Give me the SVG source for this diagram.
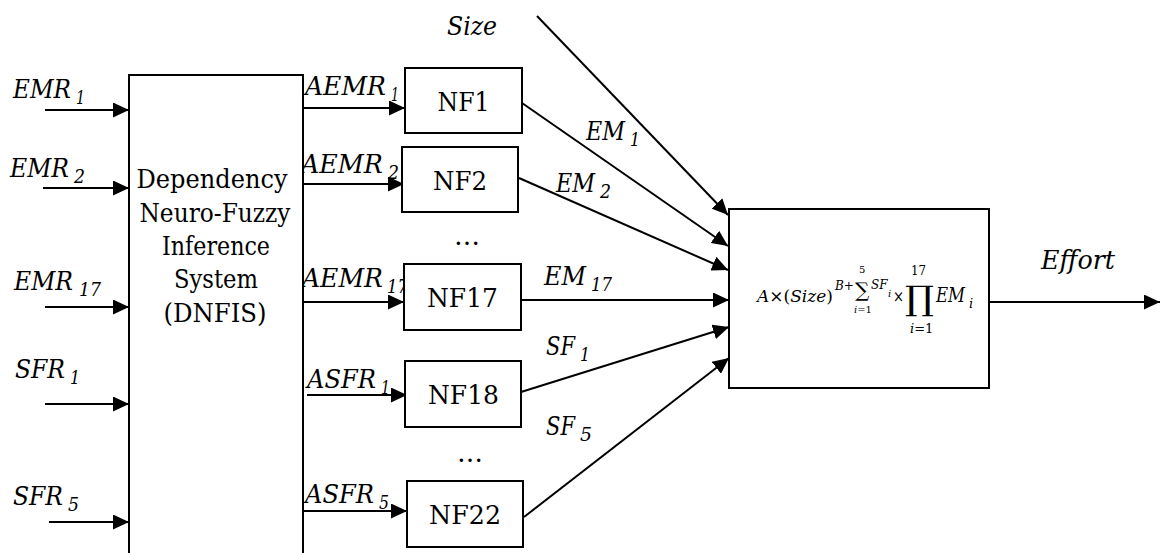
<svg xmlns="http://www.w3.org/2000/svg" width="1160" height="553" viewBox="0 0 1160 553">
<style>
.box{fill:#fff;stroke:#000;stroke-width:2}
.ln{stroke:#000;stroke-width:2;fill:none}
text{font-family:"DejaVu Serif",serif;fill:#000}
.t{font-size:26px}
.i{font-style:italic}
.sub{font-size:18px;font-style:italic}
.f{font-style:italic}
.n{font-style:normal}
</style>
<defs>
<marker id="ah" markerUnits="userSpaceOnUse" markerWidth="17" markerHeight="15" refX="16" refY="7.5" orient="auto">
<path d="M0,0 L16,7.5 L0,15 z" fill="#000"/>
</marker>
</defs>
<rect width="1160" height="553" fill="#fff"/>

<g id="connectors">
<line class="ln" x1="45" y1="110" x2="129" y2="110" marker-end="url(#ah)"/>
<line class="ln" x1="43" y1="188" x2="129" y2="188" marker-end="url(#ah)"/>
<line class="ln" x1="45" y1="307" x2="129" y2="307" marker-end="url(#ah)"/>
<line class="ln" x1="45" y1="404" x2="129" y2="404" marker-end="url(#ah)"/>
<line class="ln" x1="49" y1="522" x2="129" y2="522" marker-end="url(#ah)"/>

<line class="ln" x1="303" y1="108" x2="405" y2="108" marker-end="url(#ah)"/>
<line class="ln" x1="303" y1="184" x2="404" y2="184" marker-end="url(#ah)"/>
<line class="ln" x1="303" y1="302" x2="404" y2="302" marker-end="url(#ah)"/>
<line class="ln" x1="307" y1="395" x2="407" y2="395" marker-end="url(#ah)"/>
<line class="ln" x1="303" y1="511" x2="407" y2="511" marker-end="url(#ah)"/>

<line class="ln" x1="537" y1="16" x2="728" y2="215" marker-end="url(#ah)"/>
<line class="ln" x1="522" y1="103" x2="728" y2="246" marker-end="url(#ah)"/>
<line class="ln" x1="519" y1="178" x2="728" y2="270" marker-end="url(#ah)"/>
<line class="ln" x1="521" y1="300" x2="729" y2="300" marker-end="url(#ah)"/>
<line class="ln" x1="521" y1="392" x2="729" y2="327" marker-end="url(#ah)"/>
<line class="ln" x1="524" y1="517" x2="729" y2="358" marker-end="url(#ah)"/>

<line class="ln" x1="989" y1="302" x2="1160" y2="302" marker-end="url(#ah)"/>
</g>

<g id="labels">
<text class="t i" x="13" y="98" textLength="58" lengthAdjust="spacingAndGlyphs">EMR</text>
<text class="sub" x="76" y="104" textLength="9" lengthAdjust="spacingAndGlyphs">1</text>
<text class="t i" x="10" y="177" textLength="59" lengthAdjust="spacingAndGlyphs">EMR</text>
<text class="sub" x="74" y="183" textLength="11" lengthAdjust="spacingAndGlyphs">2</text>
<text class="t i" x="14" y="290" textLength="59" lengthAdjust="spacingAndGlyphs">EMR</text>
<text class="sub" x="79" y="296" textLength="22" lengthAdjust="spacingAndGlyphs">17</text>
<text class="t i" x="15" y="378" textLength="50" lengthAdjust="spacingAndGlyphs">SFR</text>
<text class="sub" x="70" y="384" textLength="10" lengthAdjust="spacingAndGlyphs">1</text>
<text class="t i" x="13" y="505" textLength="50" lengthAdjust="spacingAndGlyphs">SFR</text>
<text class="sub" x="68" y="511" textLength="11" lengthAdjust="spacingAndGlyphs">5</text>

<text class="t i" x="305" y="95" textLength="81" lengthAdjust="spacingAndGlyphs">AEMR</text>
<text class="sub" x="391" y="101" textLength="8" lengthAdjust="spacingAndGlyphs">1</text>
<text class="t i" x="301" y="173" textLength="82" lengthAdjust="spacingAndGlyphs">AEMR</text>
<text class="sub" x="388" y="179" textLength="11" lengthAdjust="spacingAndGlyphs">2</text>
<text class="t i" x="302" y="287" textLength="81" lengthAdjust="spacingAndGlyphs">AEMR</text>
<text class="sub" x="387" y="293" textLength="21" lengthAdjust="spacingAndGlyphs">17</text>
<text class="t i" x="307" y="388" textLength="69" lengthAdjust="spacingAndGlyphs">ASFR</text>
<text class="sub" x="381" y="394" textLength="9" lengthAdjust="spacingAndGlyphs">1</text>
<text class="t i" x="305" y="503" textLength="69" lengthAdjust="spacingAndGlyphs">ASFR</text>
<text class="sub" x="379" y="509" textLength="10" lengthAdjust="spacingAndGlyphs">5</text>

<text class="t i" x="447" y="35" textLength="50" lengthAdjust="spacingAndGlyphs">Size</text>
<text class="t i" x="586" y="140" textLength="39" lengthAdjust="spacingAndGlyphs">EM</text>
<text class="sub" x="630" y="146" textLength="10" lengthAdjust="spacingAndGlyphs">1</text>
<text class="t i" x="556" y="192" textLength="39" lengthAdjust="spacingAndGlyphs">EM</text>
<text class="sub" x="600" y="198" textLength="11" lengthAdjust="spacingAndGlyphs">2</text>
<text class="t i" x="544" y="285" textLength="42" lengthAdjust="spacingAndGlyphs">EM</text>
<text class="sub" x="591" y="291" textLength="21" lengthAdjust="spacingAndGlyphs">17</text>
<text class="t i" x="546" y="355" textLength="29" lengthAdjust="spacingAndGlyphs">SF</text>
<text class="sub" x="580" y="361" textLength="10" lengthAdjust="spacingAndGlyphs">1</text>
<text class="t i" x="546" y="435" textLength="29" lengthAdjust="spacingAndGlyphs">SF</text>
<text class="sub" x="580" y="441" textLength="12" lengthAdjust="spacingAndGlyphs">5</text>
<text class="t i" x="1041" y="269" textLength="74" lengthAdjust="spacingAndGlyphs">Effort</text>

<text class="t" x="454" y="245" textLength="26" lengthAdjust="spacingAndGlyphs">…</text>
<text class="t" x="457" y="462" textLength="26" lengthAdjust="spacingAndGlyphs">…</text>
</g>

<g id="dnfis">
<path class="box" d="M129,553 L129,75 L303,75 L303,553"/>
<text class="t" text-anchor="middle" x="212" y="188" textLength="151" lengthAdjust="spacingAndGlyphs">Dependency</text>
<text class="t" text-anchor="middle" x="215" y="222" textLength="151" lengthAdjust="spacingAndGlyphs">Neuro-Fuzzy</text>
<text class="t" text-anchor="middle" x="216" y="255" textLength="108" lengthAdjust="spacingAndGlyphs">Inference</text>
<text class="t" text-anchor="middle" x="216" y="288" textLength="84" lengthAdjust="spacingAndGlyphs">System</text>
<text class="t" text-anchor="middle" x="215" y="322" textLength="103" lengthAdjust="spacingAndGlyphs">(DNFIS)</text>
</g>

<g id="nf1"><rect class="box" x="405" y="68" width="117" height="65"/><text class="t" x="463.5" y="111" text-anchor="middle" textLength="52" lengthAdjust="spacingAndGlyphs">NF1</text></g>
<g id="nf2"><rect class="box" x="402" y="147" width="116" height="65"/><text class="t" x="460" y="190" text-anchor="middle" textLength="54" lengthAdjust="spacingAndGlyphs">NF2</text></g>
<g id="nf17"><rect class="box" x="404" y="264" width="117" height="66"/><text class="t" x="462.5" y="307" text-anchor="middle" textLength="71" lengthAdjust="spacingAndGlyphs">NF17</text></g>
<g id="nf18"><rect class="box" x="405" y="361" width="116" height="66"/><text class="t" x="463.5" y="404" text-anchor="middle" textLength="71" lengthAdjust="spacingAndGlyphs">NF18</text></g>
<g id="nf22"><rect class="box" x="407" y="481" width="116" height="66"/><text class="t" x="465" y="524" text-anchor="middle" textLength="72" lengthAdjust="spacingAndGlyphs">NF22</text></g>

<g id="formula">
<rect class="box" x="729" y="209" width="260" height="179"/>
<text class="f" x="757" y="302" font-size="17">A<tspan class="n">×(</tspan>Size<tspan class="n">)</tspan></text>
<text class="f" x="835" y="290" font-size="12">B<tspan class="n">+</tspan></text>
<text class="f n" x="855" y="297" font-size="20">∑</text>
<text class="f n" x="859" y="273" font-size="10">5</text>
<text class="f" x="854" y="313" font-size="10">i<tspan class="n">=1</tspan></text>
<text class="f" x="871" y="289" font-size="12">SF</text>
<text class="f" x="888" y="297" font-size="10">i</text>
<text class="f n" x="893" y="302" font-size="16" textLength="11" lengthAdjust="spacingAndGlyphs">×</text>
<text class="f n" x="905" y="310" font-size="34" textLength="29" lengthAdjust="spacingAndGlyphs">∏</text>
<text class="f n" x="911" y="275" font-size="13" textLength="15" lengthAdjust="spacingAndGlyphs">17</text>
<text class="f" x="910" y="333" font-size="13">i<tspan class="n">=1</tspan></text>
<text class="f" x="936" y="302" font-size="20" textLength="29" lengthAdjust="spacingAndGlyphs">EM</text>
<text class="f" x="969" y="308" font-size="13">i</text>
</g>
</svg>
